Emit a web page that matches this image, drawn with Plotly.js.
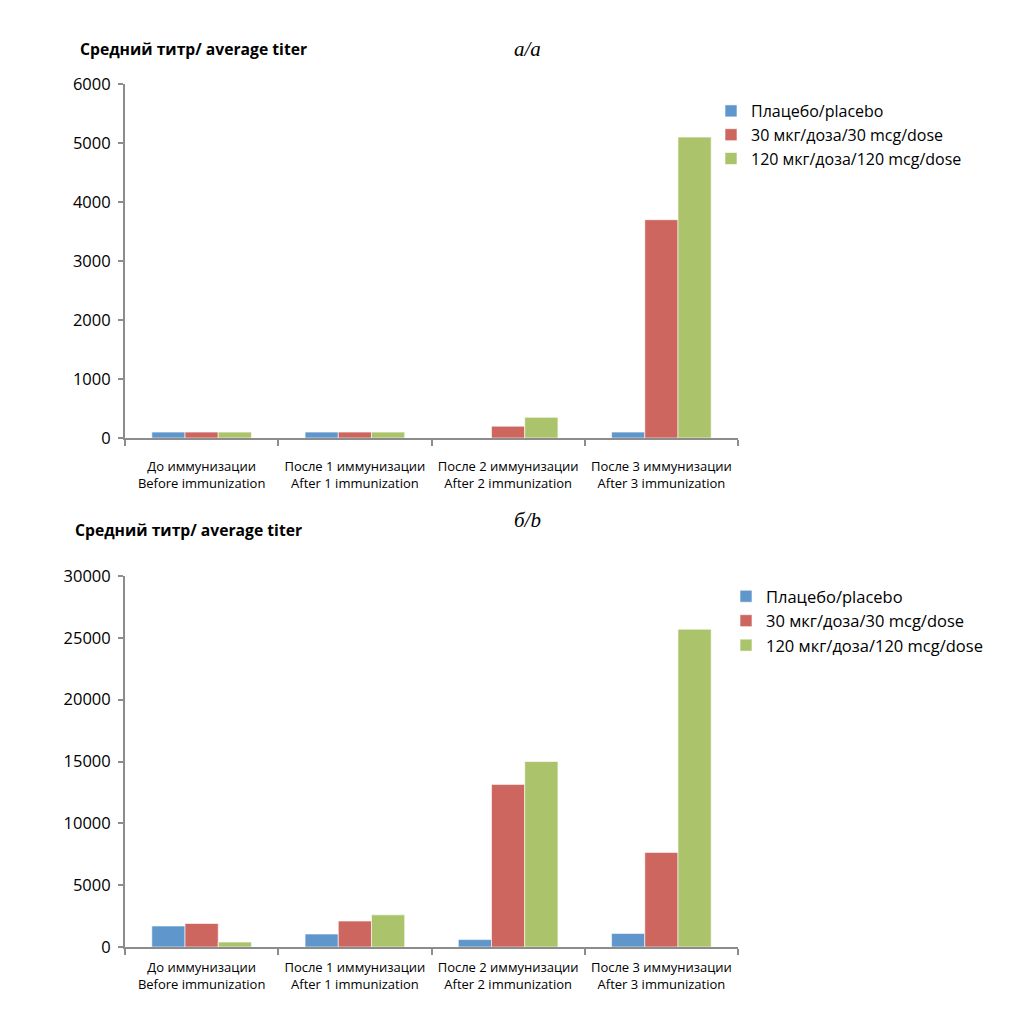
<!DOCTYPE html>
<html>
<head>
<meta charset="utf-8">
<script src="https://cdn.plot.ly/plotly-3.0.1.min.js"></script>
<style>html,body{margin:0;padding:0;background:#fff;}#chart{width:1015px;height:1018px;}</style>
</head>
<body>
<div id="chart"></div>
<script>
// Categories (x tick labels)
const categories = [
  "До иммунизации<br>Before immunization",
  "После 1 иммунизации<br>After 1 immunization",
  "После 2 иммунизации<br>After 2 immunization",
  "После 3 иммунизации<br>After 3 immunization"
];
// Series names
const seriesNames = ["Плацебо/placebo", "30 мкг/доза/30 mcg/dose", "120 мкг/доза/120 mcg/dose"];
// Panel a values
const aPlacebo = [100, 100, -15, 100];
const a30 = [100, 100, 200, 3700];
const a120 = [100, 100, 350, 5100];
// Panel b values
const bPlacebo = [1700, 1050, 600, 1100];
const b30 = [1900, 2100, 13150, 7650];
const b120 = [400, 2600, 15000, 25700];
// Y tick values
const aTicks = [0, 1000, 2000, 3000, 4000, 5000, 6000];
const bTicks = [0, 5000, 10000, 15000, 20000, 25000, 30000];

const colors = ["#5F96CB", "#CE6660", "#ABC46B"];
const FONT = "Open Sans, DejaVu Sans, sans-serif";

function mk(y, i, xa, ya, leg) {
  return {
    type: "bar", x: categories, y: y, name: seriesNames[i],
    xaxis: xa, yaxis: ya, legend: leg,
    marker: {color: colors[i], line: {color: "rgba(255,255,255,0.6)", width: 1}},
    cliponaxis: false, hoverinfo: "y"
  };
}

const data = [
  mk(aPlacebo, 0, "x", "y", "legend"),
  mk(a30, 1, "x", "y", "legend"),
  mk(a120, 2, "x", "y", "legend"),
  mk(bPlacebo, 0, "x2", "y2", "legend2"),
  mk(b30, 1, "x2", "y2", "legend2"),
  mk(b120, 2, "x2", "y2", "legend2")
];

const W = 1015, H = 1018;
const px = v => v / W;
const py = v => 1 - v / H;

const axX = (dom, anchor, standoff) => ({
  domain: dom, anchor: anchor, type: "category",
  showline: true, linecolor: "#8C8C8C", linewidth: 2,
  ticks: "outside", tickson: "boundaries", ticklen: 6, tickcolor: "#8C8C8C", tickwidth: 2,
  showgrid: false, zeroline: false,
  tickfont: {family: FONT, size: 13, color: "#000"},
  ticklabelstandoff: standoff, fixedrange: true
});
const axY = (dom, anchor, range, tv) => ({
  domain: dom, anchor: anchor, range: range,
  tickvals: tv, ticktext: tv.map(String),
  showline: true, linecolor: "#8C8C8C", linewidth: 2,
  ticks: "outside", ticklen: 5, tickcolor: "#8C8C8C", tickwidth: 2,
  showgrid: false, zeroline: false,
  tickfont: {family: FONT, size: 16.5, color: "#000"},
  ticklabelstandoff: 4, fixedrange: true
});

const layout = {
  width: W, height: H,
  margin: {l: 0, r: 0, t: 0, b: 0},
  paper_bgcolor: "#fff", plot_bgcolor: "#fff",
  showlegend: true,
  bargap: 0.35, bargroupgap: 0, barmode: "group",
  xaxis: axX([px(125), px(738)], "y", 15),
  yaxis: axY([py(438), py(84)], "x", [0, 6000], aTicks),
  xaxis2: axX([px(125), px(738)], "y2", 7),
  yaxis2: axY([py(947), py(576)], "x2", [0, 30000], bTicks),
  legend: {
    x: px(711), y: py(94), xanchor: "left", yanchor: "top",
    font: {family: FONT, size: 16, color: "#000"},
    bgcolor: "rgba(0,0,0,0)", tracegroupgap: 0, itemclick: false
  },
  legend2: {
    x: px(726), y: py(579), xanchor: "left", yanchor: "top",
    font: {family: FONT, size: 16.5, color: "#000"},
    bgcolor: "rgba(0,0,0,0)", tracegroupgap: 0, itemclick: false
  },
  annotations: [
    {text: "<b>Средний титр/ average titer</b>", x: px(78), y: py(49), xref: "paper", yref: "paper",
     xanchor: "left", yanchor: "middle", showarrow: false, font: {family: FONT, size: 15.7, color: "#000"}},
    {text: "<i>а/a</i>", x: px(527), y: py(49), xref: "paper", yref: "paper",
     xanchor: "center", yanchor: "middle", showarrow: false, font: {family: "Liberation Serif, serif", size: 21, color: "#000"}},
    {text: "<b>Средний титр/ average titer</b>", x: px(73), y: py(530), xref: "paper", yref: "paper",
     xanchor: "left", yanchor: "middle", showarrow: false, font: {family: FONT, size: 15.7, color: "#000"}},
    {text: "<i>б/b</i>", x: px(527), y: py(520), xref: "paper", yref: "paper",
     xanchor: "center", yanchor: "middle", showarrow: false, font: {family: "Liberation Serif, serif", size: 21, color: "#000"}}
  ]
};

Plotly.newPlot("chart", data, layout, {displayModeBar: false, staticPlot: true});
</script>
</body>
</html>
